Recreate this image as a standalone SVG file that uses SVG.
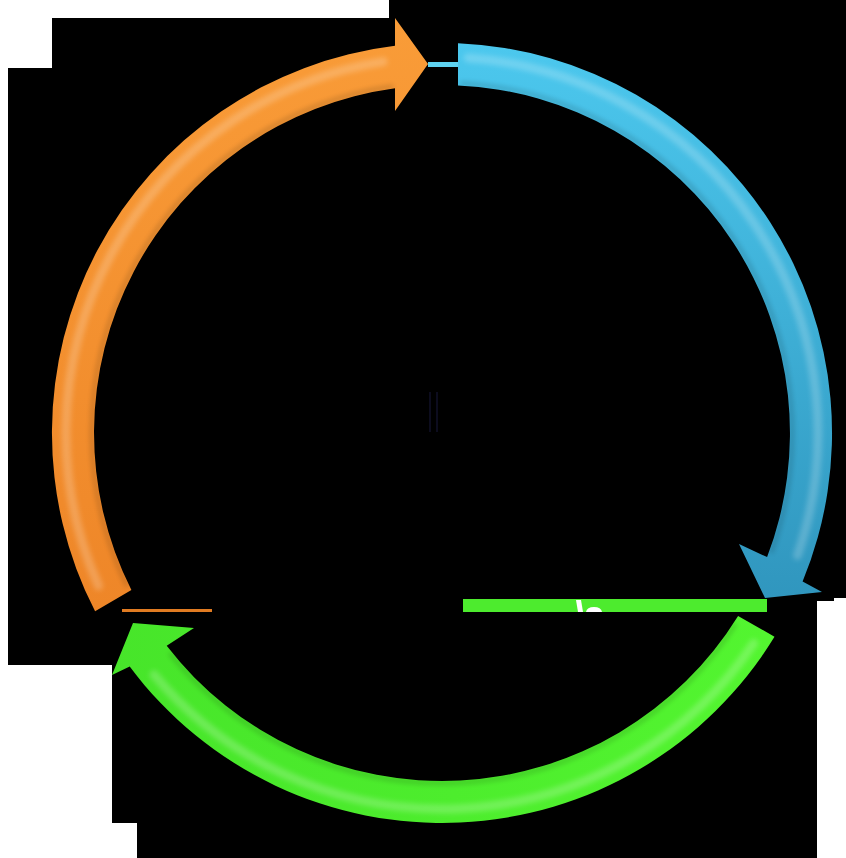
<svg xmlns="http://www.w3.org/2000/svg" width="846" height="858" viewBox="0 0 846 858">
<defs>
<linearGradient id="gOrange" gradientUnits="userSpaceOnUse" x1="0" y1="20" x2="0" y2="610">
<stop offset="0" stop-color="#f99c38"/><stop offset="1" stop-color="#ee8628"/>
</linearGradient>
<linearGradient id="gBlue" gradientUnits="userSpaceOnUse" x1="0" y1="44" x2="0" y2="600">
<stop offset="0" stop-color="#4cc8ee"/><stop offset="1" stop-color="#3096be"/>
</linearGradient>
<linearGradient id="gGreen" gradientUnits="userSpaceOnUse" x1="770" y1="620" x2="110" y2="680">
<stop offset="0" stop-color="#53f530"/><stop offset="1" stop-color="#47e52a"/>
</linearGradient>
<filter id="soft" x="-10%" y="-10%" width="120%" height="120%"><feGaussianBlur stdDeviation="2.5"/></filter>
<clipPath id="barClip"><rect x="463" y="599" width="304" height="13"/></clipPath>
<style>
.hl{fill:none;stroke:#ffffff;stroke-width:9;stroke-linecap:round;opacity:0.2;filter:url(#soft)}
.sh{fill:none;stroke:#000000;stroke-width:4;opacity:0.16;filter:url(#soft)}
</style>
</defs>
<rect x="0" y="0" width="846" height="858" fill="#ffffff"/>
<path d="M389,0 H846 V598 H834 V601 H817 V858 H137 V823 H112 V665 H8 V68 H52 V18 H389 Z" fill="#000000"/>
<g id="center-marks">
<rect x="429" y="392" width="2" height="40" fill="#0c0c1e"/>
<rect x="436" y="392" width="2" height="40" fill="#0c0c1e"/>
</g>
<g id="node-orange">
<path d="M95.1,611.3 A390,390 0 0 1 395,45.8 L395,18 L428,64 L395,111 L395,88.2 A348,348 0 0 0 131.4,589.9 Z" fill="url(#gOrange)"/>
<path class="hl" d="M98.5,585.9 A376,376 0 0 1 383.2,61.6"/>
<path class="sh" d="M127.4,586.4 A350,350 0 0 1 393.3,86.4"/>
</g>
<g id="node-blue">
<path d="M458,43.3 A390,390 0 0 1 802.6,581.6 L822,592 L765,598 L739,544 L767.1,557.1 A348,348 0 0 0 458,85.4 Z" fill="url(#gBlue)"/>
<path class="hl" d="M468.2,57.9 A376,376 0 0 1 797.5,555.4"/>
<path class="sh" d="M460.3,83.5 A350,350 0 0 1 770.9,552.7"/>
</g>
<g id="node-green">
<path d="M774.5,636.8 A390,390 0 0 1 129.7,666.6 L112,675 L133,623 L194,628 L166.7,645.8 A348,348 0 0 0 738.1,615.9 Z" fill="url(#gGreen)"/>
<path class="hl" d="M753.7,643.3 A376,376 0 0 1 154,674.7"/>
<path class="sh" d="M735.5,623.6 A350,350 0 0 1 170,653.3"/>
</g>
<g id="connectors">
<rect x="428" y="62" width="30" height="5" fill="#5ed2f0"/>
<rect x="463" y="599" width="304" height="13" fill="#4deb2e"/>
<rect x="122" y="609" width="90" height="3" fill="#e07b22"/>
<g clip-path="url(#barClip)" fill="#ffffff">
<path d="M576,600 L581,600 L583,612 L578,612 Z"/>
<path d="M586,612 Q587,607 594,607 Q601,607 602,612 Z"/>
</g>
</g>
</svg>
